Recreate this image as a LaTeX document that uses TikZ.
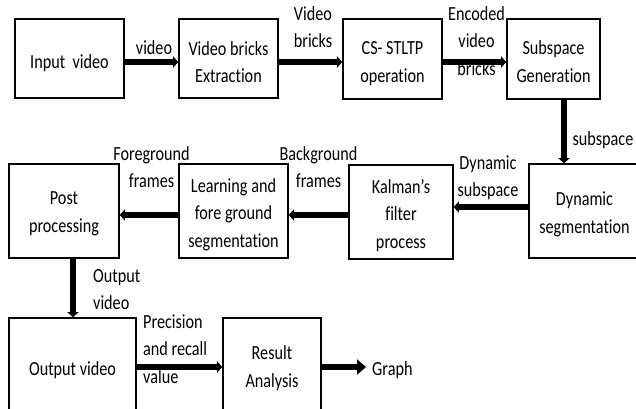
\documentclass[tikz,border=0pt]{standalone}
\usepackage{fontspec}
\setmainfont{Carlito}[FakeStretch=0.81, Ligatures=NoCommon]
\usetikzlibrary{arrows.meta}
\newcommand\boxtxt[2]{\raisebox{#1}[\height][\depth]{\begin{tabular}{@{}c@{}}#2\end{tabular}}}
\newcommand\lbltxt[2][c]{\begin{tabular}[t]{@{}#1@{}}#2\end{tabular}}
\tikzset{
  every node/.style={font=\fontsize{20}{27.5}\selectfont, inner sep=0pt},
  procbox/.style={draw, line width=1.6pt, inner sep=0pt},
  flow/.style={line width=6pt, -{Triangle[width=11pt,length=5pt]}},
  bigflow/.style={line width=6pt, -{Triangle[width=15pt,length=9pt]}},
  lbl/.style={anchor=base},
  lblw/.style={anchor=base west}
}
\begin{document}
\begin{tikzpicture}[x=1pt,y=-1pt]
\useasboundingbox (0,0) rectangle (636,408);
\clip (0,0) rectangle (636,408);
% boxes
\node[procbox, minimum width=109pt, minimum height=79pt] (in) at (69.5,58.5) {\boxtxt{-4pt}{Input\ \ video}};
\node[procbox, minimum width=99pt, minimum height=79pt] (vbe) at (228.5,58.5) {\boxtxt{-5pt}{Video bricks\\Extraction}};
\node[procbox, minimum width=99pt, minimum height=80pt] (cs) at (392.5,59) {\boxtxt{-4pt}{CS- STLTP\\operation}};
\node[procbox, minimum width=93pt, minimum height=80pt] (sg) at (553.5,59) {\boxtxt{-4pt}{Subspace\\Generation}};
\node[procbox, minimum width=111pt, minimum height=94pt] (ds) at (584.5,211) {\boxtxt{-3pt}{Dynamic\\segmentation}};
\node[procbox, minimum width=104pt, minimum height=94pt] (kf) at (401,212) {\boxtxt{-3pt}{Kalman’s\\filter\\process}};
\node[procbox, minimum width=109pt, minimum height=94pt] (lfs) at (233.5,211) {\boxtxt{-3pt}{Learning and\\fore ground\\segmentation}};
\node[procbox, minimum width=110pt, minimum height=94pt] (pp) at (64,211) {\boxtxt{-2pt}{Post\\processing}};
\node[procbox, minimum width=127pt, minimum height=98pt] (ov) at (72.5,367) {\boxtxt{-2.5pt}{Output video}};
\node[procbox, minimum width=98pt, minimum height=98pt] (ra) at (272,367) {\boxtxt{-1pt}{Result\\Analysis}};
% labels
\node[lbl] (l1) at (154,54) {video};
\node[lbl] (l2) at (313,20) {\lbltxt{Video\\bricks}};
\node[lbl] (l3) at (476.5,20) {\lbltxt{Encoded\\video\\bricks}};
\node[lbl] (l4) at (603,145) {subspace};
\node[lbl] (l5) at (488,169) {\lbltxt{Dynamic\\subspace}};
\node[lbl] (l6) at (318.5,160) {\lbltxt{Background\\frames}};
\node[lbl] (l7) at (151.5,160) {\lbltxt{Foreground\\frames}};
\node[lblw] (l8) at (93,282) {\lbltxt[l]{Output\\video}};
\node[lblw] (l9) at (143,328) {\lbltxt[l]{Precision\\and recall\\value}};
\node[lblw] (lg) at (372,375) {Graph};
\coordinate (gtip) at (366,367);
% connectors
\draw[flow] (in.east |- 0,62) -- (vbe.west |- 0,62);
\draw[flow] (vbe.east |- 0,62) -- (cs.west |- 0,62);
\draw[flow] (cs.east |- 0,62) -- (sg.west |- 0,62);
\draw[flow] (sg.south -| 564,0) -- (ds.north -| 564,0);
\draw[flow] (ds.west |- 0,207) -- (kf.east |- 0,207);
\draw[flow] (kf.west |- 0,215) -- (lfs.east |- 0,215);
\draw[flow] (lfs.west |- 0,215) -- (pp.east |- 0,215);
\draw[flow] (pp.south -| 73,0) -- (ov.north -| 73,0);
\draw[flow] (ov.east |- 0,367) -- (ra.west |- 0,367);
\draw[bigflow] (ra.east |- 0,367) -- (gtip);
\end{tikzpicture}
\end{document}
